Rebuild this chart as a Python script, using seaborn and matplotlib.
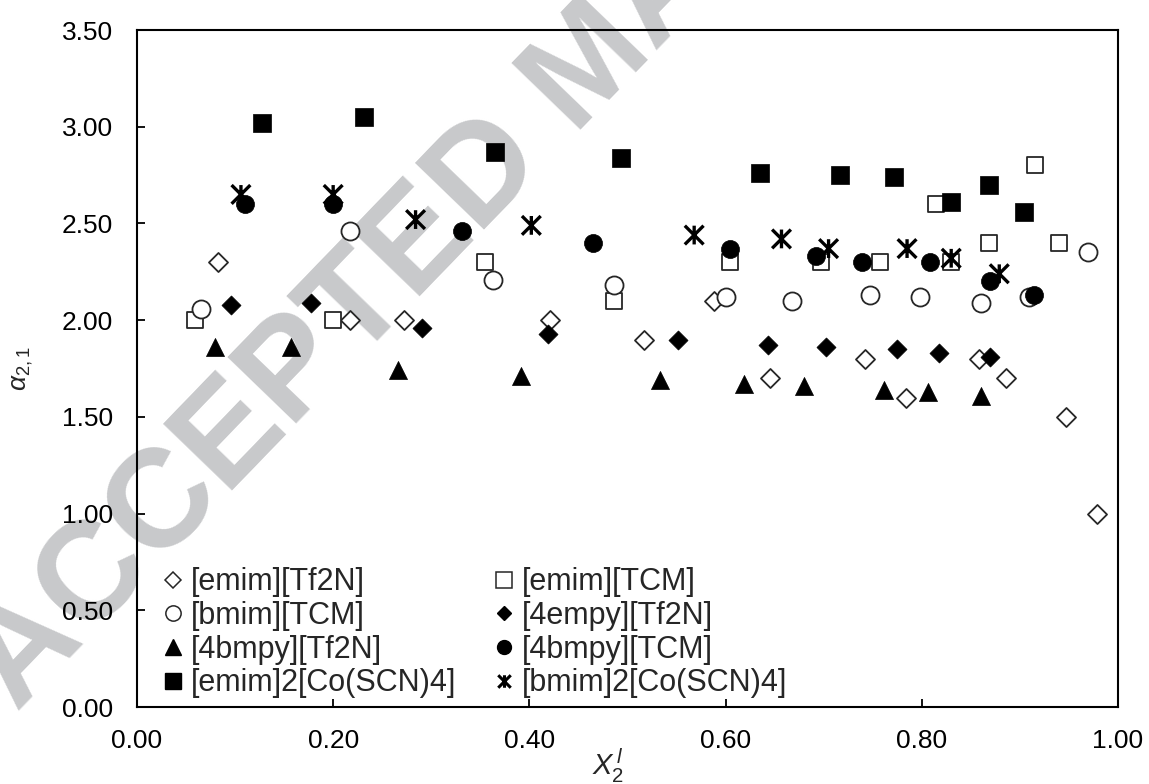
import matplotlib
matplotlib.use("Agg")
import matplotlib.pyplot as plt
import seaborn as sns
import numpy as np
from matplotlib.lines import Line2D
from matplotlib.path import Path
from matplotlib.ticker import FormatStrFormatter

sns.set_style("white")
plt.rcParams['font.family'] = ['Liberation Sans', 'DejaVu Sans']
plt.rcParams['mathtext.fontset'] = 'custom'
plt.rcParams['mathtext.it'] = 'Liberation Sans:italic'
plt.rcParams['mathtext.rm'] = 'Liberation Sans'

# ---- data ----
emim_tf2n_x = [0.083, 0.217, 0.272, 0.421, 0.517, 0.588, 0.645, 0.742, 0.784, 0.858, 0.886, 0.947, 0.979]
emim_tf2n_y = [2.30, 2.00, 2.00, 2.00, 1.90, 2.10, 1.70, 1.80, 1.60, 1.80, 1.70, 1.50, 1.00]

emim_tcm_x = [0.059, 0.200, 0.355, 0.486, 0.605, 0.697, 0.757, 0.815, 0.830, 0.869, 0.915, 0.940]
emim_tcm_y = [2.00, 2.00, 2.30, 2.10, 2.30, 2.30, 2.30, 2.60, 2.30, 2.40, 2.80, 2.40]

bmim_tcm_x = [0.065, 0.217, 0.363, 0.486, 0.600, 0.668, 0.747, 0.798, 0.860, 0.909, 0.969]
bmim_tcm_y = [2.06, 2.46, 2.21, 2.18, 2.12, 2.10, 2.13, 2.12, 2.09, 2.12, 2.35]

empy_tf2n_x = [0.096, 0.177, 0.291, 0.419, 0.552, 0.643, 0.702, 0.775, 0.818, 0.870]
empy_tf2n_y = [2.08, 2.09, 1.96, 1.93, 1.90, 1.87, 1.86, 1.85, 1.83, 1.81]

bmpy_tf2n_x = [0.080, 0.157, 0.266, 0.391, 0.533, 0.619, 0.680, 0.761, 0.806, 0.860]
bmpy_tf2n_y = [1.86, 1.86, 1.74, 1.71, 1.69, 1.67, 1.66, 1.64, 1.63, 1.61]

bmpy_tcm_x = [0.110, 0.200, 0.331, 0.465, 0.605, 0.692, 0.739, 0.808, 0.870, 0.914]
bmpy_tcm_y = [2.60, 2.60, 2.46, 2.40, 2.37, 2.33, 2.30, 2.30, 2.20, 2.13]

emim2_co_x = [0.127, 0.231, 0.365, 0.493, 0.635, 0.717, 0.772, 0.830, 0.869, 0.904]
emim2_co_y = [3.02, 3.05, 2.87, 2.84, 2.76, 2.75, 2.74, 2.61, 2.70, 2.56]

bmim2_co_x = [0.106, 0.200, 0.284, 0.402, 0.568, 0.657, 0.705, 0.785, 0.830, 0.879]
bmim2_co_y = [2.65, 2.65, 2.52, 2.49, 2.44, 2.42, 2.37, 2.37, 2.32, 2.24]

labels = ['[emim][Tf2N]', '[emim][TCM]', '[bmim][TCM]', '[4empy][Tf2N]',
          '[4bmpy][Tf2N]', '[4bmpy][TCM]', '[emim]2[Co(SCN)4]', '[bmim]2[Co(SCN)4]']
series_x = [emim_tf2n_x, emim_tcm_x, bmim_tcm_x, empy_tf2n_x, bmpy_tf2n_x, bmpy_tcm_x, emim2_co_x, bmim2_co_x]
series_y = [emim_tf2n_y, emim_tcm_y, bmim_tcm_y, empy_tf2n_y, bmpy_tf2n_y, bmpy_tcm_y, emim2_co_y, bmim2_co_y]

x_ticks = [0.0, 0.2, 0.4, 0.6, 0.8, 1.0]
y_ticks = [0.0, 0.5, 1.0, 1.5, 2.0, 2.5, 3.0, 3.5]

# Excel-like star: X plus a vertical bar
star = Path([(0, -1), (0, 1), (-1, -1), (1, 1), (-1, 1), (1, -1)],
            [Path.MOVETO, Path.LINETO, Path.MOVETO, Path.LINETO, Path.MOVETO, Path.LINETO])

# marker, plot size (pt), filled, edge lw, legend size
styles = [
    ('D', 9.7, False, 1.3, 8.5),
    ('s', 12.0, False, 1.3, 11.0),
    ('o', 13.0, False, 1.3, 11.0),
    ('D', 9.7, True, 0.5, 7.0),
    ('^', 13.0, True, 0.5, 11.0),
    ('o', 13.0, True, 0.5, 10.0),
    ('s', 12.3, True, 0.5, 11.5),
    (star, 13.5, True, 2.4, 9.0),
]

fig = plt.figure(figsize=(11.49, 7.84), dpi=100)
fig.patch.set_facecolor('white')
ax = fig.add_axes([0.1192, 0.0982, 0.8538, 0.8635])
ax.set_facecolor('none')

# watermark
fig.text(0.0148, 0.0906, 'ACCEPTED MANUSCRIPT', rotation=46, rotation_mode='anchor',
         ha='left', va='baseline', fontsize=100, fontweight='bold', color='#c8c9cb',
         zorder=-5)

for (xs, ys, lab, (mk, ms, filled, lw, lms)) in zip(series_x, series_y, labels, styles):
    if mk is star:
        sns.scatterplot(x=xs, y=ys, ax=ax, marker=mk, s=ms**2, facecolor='none',
                        edgecolor='black', linewidth=lw, zorder=3)
    elif filled:
        sns.scatterplot(x=xs, y=ys, ax=ax, marker=mk, s=ms**2, facecolor='black',
                        edgecolor='black', linewidth=lw, zorder=3)
    else:
        sns.scatterplot(x=xs, y=ys, ax=ax, marker=mk, s=ms**2, facecolor='white',
                        edgecolor='#262626', linewidth=lw, zorder=3)

ax.set_xlim(0, 1.0)
ax.set_ylim(0, 3.5)
ax.set_xticks(x_ticks)
ax.set_yticks(y_ticks)
ax.xaxis.set_major_formatter(FormatStrFormatter('%.2f'))
ax.yaxis.set_major_formatter(FormatStrFormatter('%.2f'))
ax.tick_params(axis='both', which='major', direction='in', length=6, width=1.3,
               labelsize=19, colors='black', bottom=True, left=True, top=False, right=False)
ax.tick_params(axis='x', pad=16)
ax.tick_params(axis='y', pad=17)
for sp in ax.spines.values():
    sp.set_visible(True)
    sp.set_color('black')
    sp.set_linewidth(1.5)

ax.set_xlabel(r'$X_2^{\,l}$', fontsize=21, va='top')
ax.xaxis.set_label_coords(0.48, -0.058)
ax.set_ylabel(r'$\alpha_{2,1}$', fontsize=19)
ax.yaxis.set_label_coords(-0.104, 0.5)

# legend
handles = []
for lab, (mk, ms, filled, lw, lms) in zip(labels, styles):
    if mk is star:
        h = Line2D([], [], linestyle='none', marker=mk, markersize=lms, color='black',
                   markerfacecolor='none', markeredgewidth=2.2)
    elif filled:
        h = Line2D([], [], linestyle='none', marker=mk, markersize=lms,
                   markerfacecolor='black', markeredgecolor='black')
    else:
        h = Line2D([], [], linestyle='none', marker=mk, markersize=lms,
                   markerfacecolor='white', markeredgecolor='#262626', markeredgewidth=1.1)
    handles.append(h)

order = [0, 2, 4, 6, 1, 3, 5, 7]
leg = ax.legend([handles[i] for i in order], [labels[i] for i in order], ncol=2,
                loc='lower left', bbox_to_anchor=(0.0276, 0.013), frameon=False,
                fontsize=22, handlelength=0.6, handletextpad=0.29, columnspacing=1.25,
                labelspacing=0.12, borderaxespad=0.0, borderpad=0.0)

fig.savefig('out.png', dpi=100, facecolor='white')
